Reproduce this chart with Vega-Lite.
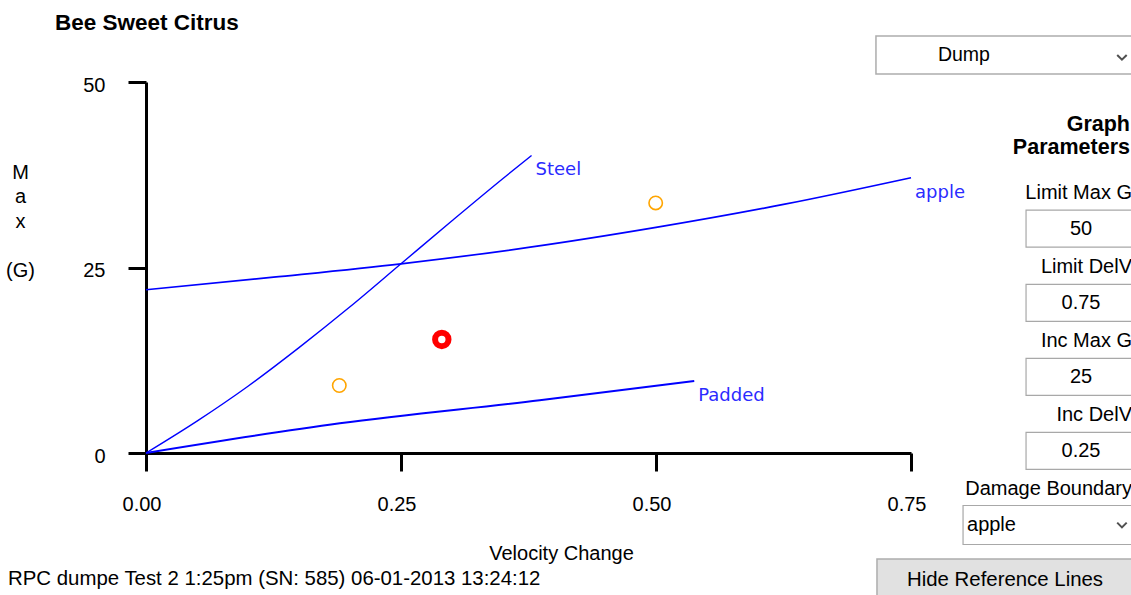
{
  "$schema": "https://vega.github.io/schema/vega-lite/v6.json",
  "width": 765,
  "height": 371,
  "autosize": {"type": "none"},
  "padding": {"left": 146, "top": 82, "right": 220, "bottom": 142},
  "background": "white",
  "config": {"view": {"stroke": null}, "font": "Liberation Sans"},
  "title": {
    "text": "Bee Sweet Citrus",
    "anchor": "start",
    "frame": "group",
    "dx": -91,
    "offset": -10,
    "baseline": "middle",
    "font": "Liberation Sans",
    "fontSize": 22.5,
    "fontWeight": "bold",
    "color": "black"
  },
  "datasets": {
    "refs": [
      {"series": "Steel", "dv": 0, "g": 0},
      {"series": "Steel", "dv": 0.05, "g": 4.3},
      {"series": "Steel", "dv": 0.1, "g": 9.0},
      {"series": "Steel", "dv": 0.15, "g": 14.2},
      {"series": "Steel", "dv": 0.2, "g": 19.7},
      {"series": "Steel", "dv": 0.25, "g": 25.5},
      {"series": "Steel", "dv": 0.3, "g": 31.3},
      {"series": "Steel", "dv": 0.35, "g": 37.0},
      {"series": "Steel", "dv": 0.378, "g": 40.1},
      {"series": "apple", "dv": 0, "g": 22.0},
      {"series": "apple", "dv": 0.125, "g": 23.7},
      {"series": "apple", "dv": 0.25, "g": 25.5},
      {"series": "apple", "dv": 0.375, "g": 27.7},
      {"series": "apple", "dv": 0.5, "g": 30.4},
      {"series": "apple", "dv": 0.625, "g": 33.5},
      {"series": "apple", "dv": 0.75, "g": 37.1},
      {"series": "Padded", "dv": 0, "g": 0},
      {"series": "Padded", "dv": 0.19, "g": 4.0},
      {"series": "Padded", "dv": 0.386, "g": 7.1},
      {"series": "Padded", "dv": 0.5375, "g": 9.7}
    ],
    "tests": [
      {"kind": "earlier", "dv": 0.1895, "g": 9.1},
      {"kind": "earlier", "dv": 0.4997, "g": 33.7},
      {"kind": "current", "dv": 0.29, "g": 15.3}
    ],
    "params": [
      {"param": "Limit Max G", "value": "50"},
      {"param": "Limit DelV", "value": "0.75"},
      {"param": "Inc Max G", "value": "25"},
      {"param": "Inc DelV", "value": "0.25"},
      {"param": "Damage Boundary", "value": "apple"}
    ],
    "form": [
      {"part": "selector", "text": "Dump"},
      {"part": "heading", "text": "Graph Parameters"},
      {"part": "button", "text": "Hide Reference Lines"},
      {"part": "footer", "text": "RPC dumpe Test 2 1:25pm (SN: 585) 06-01-2013 13:24:12"}
    ]
  },
  "resolve": {"scale": {"x": "independent", "y": "independent"}},
  "layer": [
    {
      "resolve": {"scale": {"strokeWidth": "independent"}},
      "layer": [
        {
          "data": {"name": "refs"},
          "mark": {"type": "line", "interpolate": "monotone"},
          "encoding": {
            "x": {
              "field": "dv",
              "type": "quantitative",
              "scale": {"domain": [0, 0.75], "nice": false, "zero": false},
              "axis": {
                "values": [0, 0.25, 0.5, 0.75],
                "format": ".2f",
                "title": "Velocity Change",
                "grid": false,
                "domainColor": "black",
                "domainWidth": 3,
                "tickColor": "black",
                "tickWidth": 3,
                "tickSize": 18,
                "labelFont": "Liberation Sans",
                "labelFontSize": 20,
                "labelColor": "black",
                "labelPadding": 23,
                "labelOffset": -4.5,
                "labelFlush": false,
                "labelOverlap": false,
                "titleFont": "Liberation Sans",
                "titleFontSize": 20,
                "titleFontWeight": "normal",
                "titleColor": "black",
                "titleX": 415,
                "titleY": 100,
                "titleAlign": "center",
                "titleBaseline": "middle"
              }
            },
            "y": {
              "field": "g",
              "type": "quantitative",
              "scale": {"domain": [0, 50], "nice": false},
              "axis": {
                "values": [0, 25, 50],
                "title": ["M", "a", "x", "\u2800", "(G)"],
                "grid": false,
                "domainColor": "black",
                "domainWidth": 3,
                "tickColor": "black",
                "tickWidth": 3,
                "tickSize": 18,
                "labelFont": "Liberation Sans",
                "labelFontSize": 20,
                "labelColor": "black",
                "labelPadding": 23,
                "labelOffset": 3,
                "labelFlush": false,
                "labelOverlap": false,
                "titleFont": "Liberation Sans",
                "titleFontSize": 20,
                "titleFontWeight": "normal",
                "titleColor": "black",
                "titleAngle": 0,
                "titleX": -126,
                "titleY": 90,
                "titleAlign": "center",
                "titleBaseline": "middle",
                "titleLineHeight": 24.5
              }
            },
            "color": {
              "field": "series",
              "type": "nominal",
              "scale": {"domain": ["Steel", "apple", "Padded"], "range": ["#0000ff", "#0000ff", "#0000ff"]},
              "legend": null
            },
            "strokeWidth": {
              "field": "series",
              "type": "ordinal",
              "scale": {"domain": ["Steel", "apple", "Padded"], "range": [1.4, 2, 2]},
              "legend": null
            },
            "order": {"field": "dv", "type": "quantitative"}
          }
        },
        {
          "data": {"name": "refs"},
          "transform": [
            {"joinaggregate": [{"op": "max", "field": "dv", "as": "end"}], "groupby": ["series"]},
            {"filter": "datum.dv === datum.end"}
          ],
          "mark": {
            "type": "text",
            "align": "left",
            "baseline": "middle",
            "dx": 4,
            "dy": 15,
            "font": "DejaVu Sans",
            "fontSize": 18,
            "color": "#2b2bff"
          },
          "encoding": {
            "x": {"field": "dv", "type": "quantitative"},
            "y": {"field": "g", "type": "quantitative"},
            "text": {"field": "series"}
          }
        },
        {
          "data": {"name": "tests"},
          "mark": {"type": "point", "shape": "circle", "filled": false, "opacity": 1},
          "encoding": {
            "x": {"field": "dv", "type": "quantitative"},
            "y": {"field": "g", "type": "quantitative"},
            "stroke": {
              "field": "kind",
              "type": "nominal",
              "scale": {"domain": ["earlier", "current"], "range": ["#ffa500", "#ff0000"]},
              "legend": null
            },
            "strokeWidth": {
              "field": "kind",
              "type": "ordinal",
              "scale": {"domain": ["earlier", "current"], "range": [1.6, 6]},
              "legend": null
            },
            "size": {
              "field": "kind",
              "type": "ordinal",
              "scale": {"domain": ["earlier", "current"], "range": [180, 180]},
              "legend": null
            }
          }
        }
      ]
    },
    {
      "data": {"name": "params"},
      "layer": [
        {
          "mark": {"type": "text", "align": "right", "baseline": "middle", "dy": -36, "font": "Liberation Sans", "fontSize": 20, "color": "black"},
          "encoding": {
            "x": {"datum": 1.0009, "type": "quantitative", "scale": {"domain": [0, 1], "range": [-146, 985]}, "axis": null},
            "y": {"field": "param", "type": "nominal", "sort": null, "scale": {"type": "point", "domain": ["Limit Max G", "Limit DelV", "Inc Max G", "Inc DelV", "Damage Boundary"], "range": [146.7, 443], "padding": 0}, "axis": null},
            "text": {"field": "param"}
          }
        },
        {
          "transform": [{"filter": "datum.param !== 'Damage Boundary'"}],
          "mark": {"type": "bar", "height": 37, "fill": "white", "stroke": "#a8a8a8", "strokeWidth": 1.2},
          "encoding": {
            "x": {"datum": 0.9072, "type": "quantitative"},
            "x2": {"datum": 1.01},
            "y": {"field": "param", "type": "nominal"}
          }
        },
        {
          "transform": [{"filter": "datum.param !== 'Damage Boundary'"}],
          "mark": {"type": "text", "align": "center", "baseline": "middle", "font": "Liberation Sans", "fontSize": 20, "color": "black"},
          "encoding": {
            "x": {"datum": 0.9558, "type": "quantitative"},
            "y": {"field": "param", "type": "nominal"},
            "text": {"field": "value"}
          }
        },
        {
          "transform": [{"filter": "datum.param === 'Damage Boundary'"}],
          "mark": {"type": "bar", "height": 39, "fill": "white", "stroke": "#a8a8a8", "strokeWidth": 1.2},
          "encoding": {
            "x": {"datum": 0.8515, "type": "quantitative"},
            "x2": {"datum": 1.01},
            "y": {"field": "param", "type": "nominal"}
          }
        },
        {
          "transform": [{"filter": "datum.param === 'Damage Boundary'"}],
          "mark": {"type": "text", "align": "left", "baseline": "middle", "font": "Liberation Sans", "fontSize": 20, "color": "black"},
          "encoding": {
            "x": {"datum": 0.855, "type": "quantitative"},
            "y": {"field": "param", "type": "nominal"},
            "text": {"field": "value"}
          }
        },
        {
          "transform": [{"filter": "datum.param === 'Damage Boundary'"}],
          "mark": {"type": "point", "shape": "M-1,-0.5L0,0.5L1,-0.5", "filled": false, "stroke": "#505050", "strokeWidth": 2, "size": 90, "opacity": 1},
          "encoding": {
            "x": {"datum": 0.992, "type": "quantitative"},
            "y": {"field": "param", "type": "nominal"}
          }
        }
      ]
    },
    {
      "data": {"name": "form"},
      "layer": [
        {
          "transform": [{"filter": "datum.part === 'selector'"}],
          "mark": {"type": "rect", "fill": "white", "stroke": "#adadad", "strokeWidth": 1.5},
          "encoding": {
            "x": {"datum": 0.7745, "type": "quantitative", "scale": {"domain": [0, 1], "range": [-146, 985]}, "axis": null},
            "x2": {"datum": 1.01},
            "y": {"datum": 0.0605, "type": "quantitative", "scale": {"domain": [0, 1], "range": [-82, 513]}, "axis": null},
            "y2": {"datum": 0.1244}
          }
        },
        {
          "transform": [{"filter": "datum.part === 'selector'"}],
          "mark": {"type": "text", "align": "center", "baseline": "middle", "font": "Liberation Sans", "fontSize": 19.5, "color": "black"},
          "encoding": {
            "x": {"datum": 0.8523, "type": "quantitative"},
            "y": {"datum": 0.0924, "type": "quantitative"},
            "text": {"field": "text"}
          }
        },
        {
          "transform": [{"filter": "datum.part === 'selector'"}],
          "mark": {"type": "point", "shape": "M-1,-0.5L0,0.5L1,-0.5", "filled": false, "stroke": "#505050", "strokeWidth": 2, "size": 90, "opacity": 1},
          "encoding": {
            "x": {"datum": 0.992, "type": "quantitative"},
            "y": {"datum": 0.0963, "type": "quantitative"}
          }
        },
        {
          "transform": [{"filter": "datum.part === 'heading'"}],
          "mark": {"type": "text", "align": "right", "baseline": "middle", "lineBreak": " ", "lineHeight": 23, "font": "Liberation Sans", "fontSize": 21.5, "fontWeight": "bold", "color": "black"},
          "encoding": {
            "x": {"datum": 0.9991, "type": "quantitative"},
            "y": {"datum": 0.2101, "type": "quantitative"},
            "text": {"field": "text"}
          }
        },
        {
          "transform": [{"filter": "datum.part === 'button'"}],
          "mark": {"type": "rect", "fill": "#e1e1e1", "stroke": "#adadad", "strokeWidth": 1.5},
          "encoding": {
            "x": {"datum": 0.7754, "type": "quantitative"},
            "x2": {"datum": 1.01},
            "y": {"datum": 0.9395, "type": "quantitative"},
            "y2": {"datum": 1.01}
          }
        },
        {
          "transform": [{"filter": "datum.part === 'button'"}],
          "mark": {"type": "text", "align": "center", "baseline": "middle", "font": "Liberation Sans", "fontSize": 20.4, "color": "black"},
          "encoding": {
            "x": {"datum": 0.8886, "type": "quantitative"},
            "y": {"datum": 0.9748, "type": "quantitative"},
            "text": {"field": "text"}
          }
        },
        {
          "transform": [{"filter": "datum.part === 'footer'"}],
          "mark": {"type": "text", "align": "left", "baseline": "middle", "font": "Liberation Sans", "fontSize": 20.4, "color": "black"},
          "encoding": {
            "x": {"datum": 0.0071, "type": "quantitative"},
            "y": {"datum": 0.9731, "type": "quantitative"},
            "text": {"field": "text"}
          }
        }
      ]
    }
  ]
}
